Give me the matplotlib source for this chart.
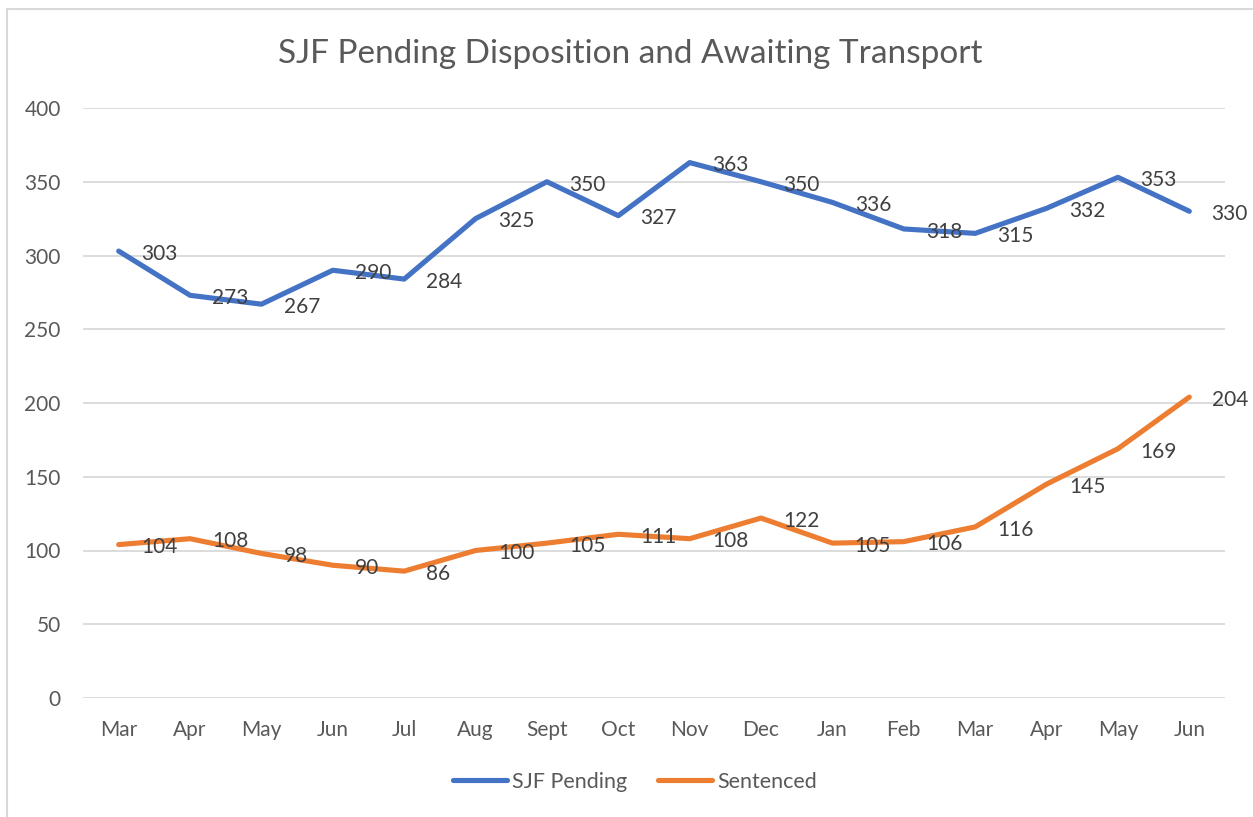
import matplotlib
matplotlib.use("Agg")
import matplotlib.pyplot as plt
from matplotlib.patches import Rectangle

months = ["Mar", "Apr", "May", "Jun", "Jul", "Aug", "Sept", "Oct", "Nov", "Dec",
          "Jan", "Feb", "Mar", "Apr", "May", "Jun"]
sjf_pending = [303, 273, 267, 290, 284, 325, 350, 327, 363, 350, 336, 318, 315, 332, 353, 330]
sentenced = [104, 108, 98, 90, 86, 100, 105, 111, 108, 122, 105, 106, 116, 145, 169, 204]
yticks = [0, 50, 100, 150, 200, 250, 300, 350, 400]

plt.rcParams['font.family'] = ['Lato', 'DejaVu Sans']

W, H = 1253, 817
fig = plt.figure(figsize=(W / 100, H / 100), dpi=100)
fig.patch.set_facecolor('white')

# chart border (left/top visible)
fig.patches.append(Rectangle((7 / W, -0.05), 1.2, (H - 9) / H + 0.05,
                             transform=fig.transFigure, fill=False,
                             edgecolor='#D9D9D9', linewidth=1.5))

ax = fig.add_axes([83 / W, (H - 698) / H, (1225 - 83) / W, (698 - 108) / H])
x = list(range(len(months)))
blue = '#4472C4'
orange = '#ED7D31'
ax.plot(x, sjf_pending, color=blue, linewidth=3.7, solid_capstyle='round',
        solid_joinstyle='round', label='SJF Pending', zorder=3)
ax.plot(x, sentenced, color=orange, linewidth=3.7, solid_capstyle='round',
        solid_joinstyle='round', label='Sentenced', zorder=3)

for xi, v in zip(x, sjf_pending):
    ax.annotate(str(v), (xi, v), xytext=(16, -2), textcoords='offset points',
                ha='left', va='center', fontsize=15, color='#404040', zorder=4)
for xi, v in zip(x, sentenced):
    ax.annotate(str(v), (xi, v), xytext=(16, -2), textcoords='offset points',
                ha='left', va='center', fontsize=15, color='#404040', zorder=4)

ax.set_xlim(-0.5, len(months) - 0.5)
ax.set_ylim(0, 400)
ax.set_yticks(yticks)
ax.set_xticks(x)
ax.set_xticklabels(months)
ax.grid(axis='y', color='#D9D9D9', linewidth=1.3)
ax.set_axisbelow(True)
for s in ax.spines.values():
    s.set_visible(False)
ax.tick_params(axis='both', length=0, labelsize=15, labelcolor='#595959')
ax.tick_params(axis='y', pad=16)
ax.tick_params(axis='x', pad=16)

fig.text(630 / W, 1 - 54 / H, 'SJF Pending Disposition and Awaiting Transport',
         ha='center', va='center', fontsize=24, color='#595959')

leg = fig.legend(loc='center', bbox_to_anchor=(635 / W, 1 - 782 / H), ncol=2,
                 frameon=False, fontsize=15.5, handlelength=2.5, handletextpad=0.25,
                 columnspacing=1.4)
for t in leg.get_texts():
    t.set_color('#595959')

fig.savefig('out.png', dpi=100, facecolor='white')
